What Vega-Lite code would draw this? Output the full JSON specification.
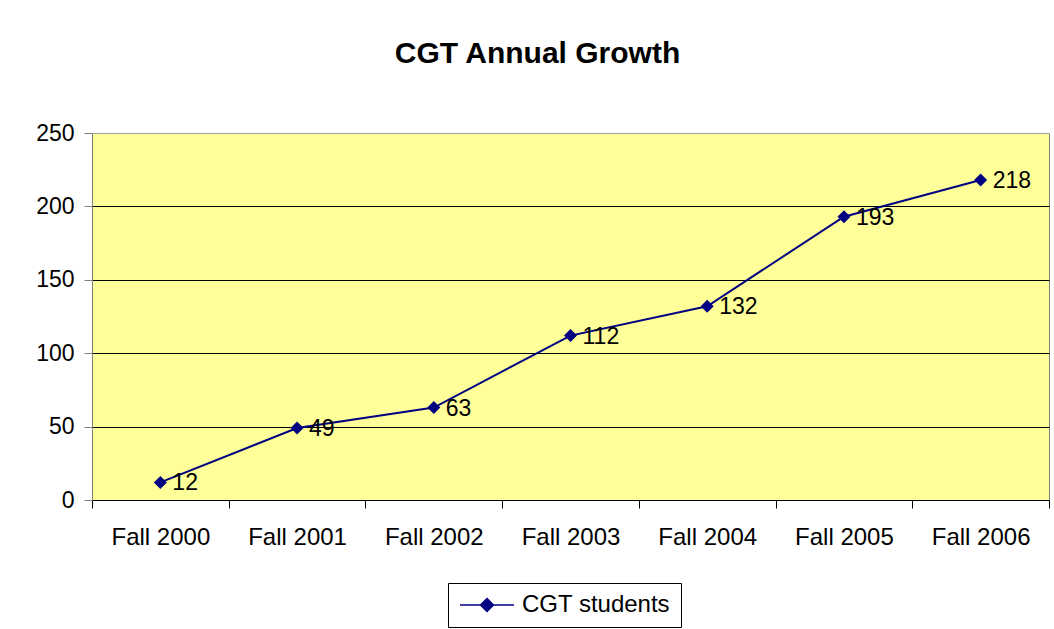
{
  "$schema": "https://vega.github.io/schema/vega-lite/v6.json",
  "width": 957,
  "height": 367,
  "autosize": "none",
  "padding": {"left": 92, "top": 133, "right": 5, "bottom": 129},
  "background": "white",
  "title": {"text": "CGT Annual Growth", "font": "Liberation Sans", "fontSize": 30, "fontWeight": "bold", "color": "black", "anchor": "middle", "frame": "group", "dx": -33, "offset": 53},
  "data": {"values": [
    {"term": "Fall 2000", "students": 12, "series": "CGT students"},
    {"term": "Fall 2001", "students": 49, "series": "CGT students"},
    {"term": "Fall 2002", "students": 63, "series": "CGT students"},
    {"term": "Fall 2003", "students": 112, "series": "CGT students"},
    {"term": "Fall 2004", "students": 132, "series": "CGT students"},
    {"term": "Fall 2005", "students": 193, "series": "CGT students"},
    {"term": "Fall 2006", "students": 218, "series": "CGT students"}
  ]},
  "encoding": {
    "x": {"field": "term", "type": "ordinal", "sort": null,
      "scale": {"type": "band", "paddingInner": 0, "paddingOuter": 0},
      "axis": {"title": null, "labelAngle": 0, "tickBand": "extent", "grid": false, "domainColor": "black", "tickColor": "black", "tickSize": 8, "labelFont": "Liberation Sans", "labelFontSize": 24, "labelColor": "black", "labelPadding": 17}},
    "y": {"field": "students", "type": "quantitative",
      "scale": {"domain": [0, 250], "nice": false},
      "axis": {"title": null, "values": [0, 50, 100, 150, 200, 250], "grid": true,
        "gridColor": {"condition": {"test": "datum.value === 250", "value": "#a0a0a0"}, "value": "black"},
        "gridWidth": 1, "domainColor": "#808080", "tickColor": "#808080", "tickSize": 8, "labelFont": "Liberation Sans", "labelFontSize": 23, "labelColor": "black", "labelPadding": 10}}
  },
  "layer": [
    {"mark": {"type": "line", "color": "#000080", "strokeWidth": 2}},
    {"mark": {"type": "point", "shape": "diamond", "filled": true, "size": 169, "opacity": 1},
      "encoding": {"color": {"field": "series", "type": "nominal", "scale": {"range": ["#000080"]},
        "legend": {"title": null, "orient": "none", "legendX": 356, "legendY": 450, "direction": "vertical", "strokeColor": "black", "fillColor": "white", "padding": 10, "labelFont": "Liberation Sans", "labelFontSize": 24, "labelColor": "black", "labelOffset": 40,
          "symbolType": "M-1,0H4.4M1.7,-0.65L2.35,0L1.7,0.65L1.05,0Z", "symbolSize": 400, "symbolStrokeWidth": 1.5, "symbolStrokeColor": "#000080", "symbolFillColor": "#000080",
          "encode": {"symbols": {"update": {"stroke": {"value": "#000080"}, "strokeWidth": {"value": 1.5}, "fill": {"value": "#000080"}, "opacity": {"value": 1}}}}}}}},
    {"mark": {"type": "text", "align": "left", "baseline": "alphabetic", "dx": 12, "dy": 8, "font": "Liberation Sans", "fontSize": 23, "color": "black"},
      "encoding": {"text": {"field": "students", "type": "quantitative"}}}
  ],
  "config": {"font": "Liberation Sans", "view": {"fill": "#FFFF99", "stroke": "#808080", "strokeWidth": 1}}
}
